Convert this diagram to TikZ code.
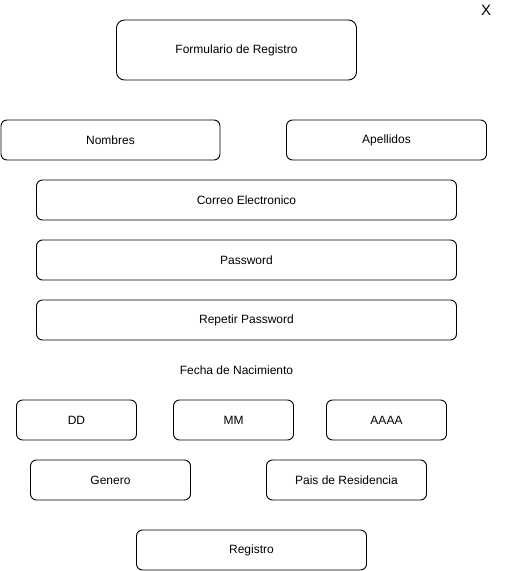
\documentclass[tikz,border=0pt]{standalone}
\usepackage{fontspec}
\setmainfont{Liberation Sans}
\usepackage{tikz}

\begin{document}
\begin{tikzpicture}[
    x=1pt, y=-1pt,
    box/.style={rectangle, draw, rounded corners=6pt, line width=0.9pt, minimum height=40pt, align=center, font=\fontsize{12}{14}\selectfont},
    label/.style={font=\fontsize{12}{14}\selectfont}
]
\useasboundingbox (0,0) rectangle (507,571);
\node[box, minimum width=240pt, minimum height=60pt, rounded corners=8pt] (form) at (236.5, 50) {Formulario de Registro};
\node[font=\fontsize{15}{17}\selectfont] (close) at (486, 10) {X};

\node[box, minimum width=219pt] (nombres) at (110.5, 140) {Nombres};
\node[box, minimum width=200pt] (apellidos) at (386.5, 140) {Apellidos};
\node[box, minimum width=420pt] (correo) at (246.5, 200) {Correo Electronico};
\node[box, minimum width=420pt] (password) at (246.5, 260) {Password};
\node[box, minimum width=420pt] (repetir) at (246.5, 320) {Repetir Password};

\node[label] (fecha) at (236.5, 370) {Fecha de Nacimiento};
\node[box, minimum width=120pt] (dia) at (76.5, 420) {DD};
\node[box, minimum width=120pt] (mes) at (233.5, 420) {MM};
\node[box, minimum width=120pt] (anio) at (386.5, 420) {AAAA};

\node[box, minimum width=160pt] (genero) at (110.5, 480) {Genero};
\node[box, minimum width=160pt] (pais) at (346.5, 480) {Pais de Residencia};

\node[box, minimum width=230pt] (registro) at (251.5, 550) {Registro};
\end{tikzpicture}
\end{document}
